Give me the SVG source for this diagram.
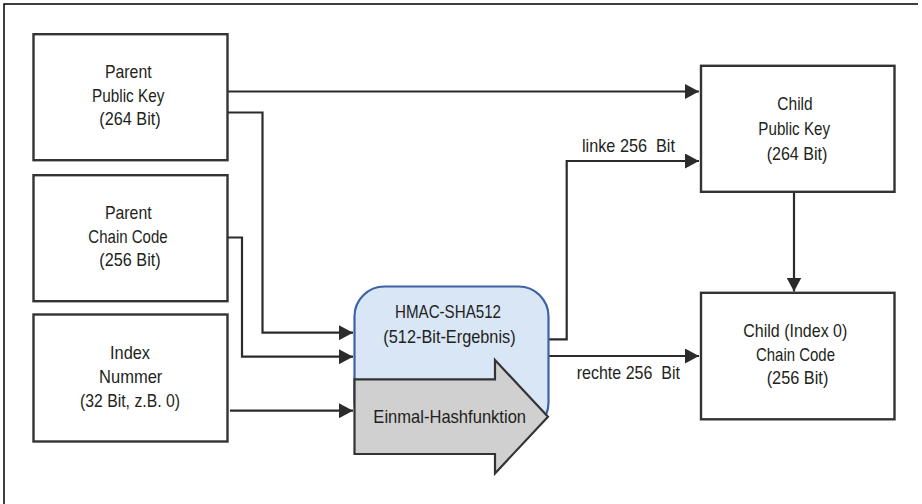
<svg xmlns="http://www.w3.org/2000/svg" width="922" height="504" viewBox="0 0 922 504">
<style>
.box{fill:#fff;stroke:#333;stroke-width:2.4}
.ln{fill:none;stroke:#2b2b2b;stroke-width:2.2}
text{font-family:"Liberation Sans",Arial,sans-serif;font-size:19px;fill:#231f20;text-anchor:middle}
.lbl{text-anchor:start}
</style>
<defs>
<marker id="ah" markerUnits="userSpaceOnUse" markerWidth="14" markerHeight="15" refX="14" refY="7.5" orient="auto" viewBox="0 0 14 15">
<path d="M0,0 L14,7.5 L0,15 z" fill="#2b2b2b"/>
</marker>
</defs>
<rect width="922" height="504" fill="#fff"/>
<path d="M4,504 V4 H918" fill="none" stroke="#000" stroke-width="1.5"/>
<g id="connectors">
<path class="ln" d="M228,91.5 H699" marker-end="url(#ah)"/>
<path class="ln" d="M228,112.5 H262.5 V332.7 H353" marker-end="url(#ah)"/>
<path class="ln" d="M228,237.5 H242 V356.7 H353" marker-end="url(#ah)"/>
<path class="ln" d="M230,410.7 H353" marker-end="url(#ah)"/>
<path class="ln" d="M549,339.3 H566.7 V161 H699" marker-end="url(#ah)"/>
<path class="ln" d="M549,356 H699" marker-end="url(#ah)"/>
<path class="ln" d="M794,191.7 V291.5" marker-end="url(#ah)"/>
<text class="lbl" x="582" y="151.7" xml:space="preserve" textLength="93" lengthAdjust="spacingAndGlyphs">linke 256  Bit</text>
<text class="lbl" x="576.7" y="379" xml:space="preserve" textLength="103.3" lengthAdjust="spacingAndGlyphs">rechte 256  Bit</text>
</g>
<g id="parent-public-key">
<rect class="box" x="33.5" y="34.2" width="194" height="126"/>
<text x="128.3" y="78" textLength="46.7" lengthAdjust="spacingAndGlyphs">Parent</text>
<text x="128.2" y="101.5" textLength="72.3" lengthAdjust="spacingAndGlyphs">Public Key</text>
<text x="130" y="124.5" textLength="61.3" lengthAdjust="spacingAndGlyphs">(264 Bit)</text>
</g>
<g id="parent-chain-code">
<rect class="box" x="33.5" y="175.2" width="194" height="126"/>
<text x="128.3" y="219.3" textLength="46.7" lengthAdjust="spacingAndGlyphs">Parent</text>
<text x="128" y="242.7" textLength="79.3" lengthAdjust="spacingAndGlyphs">Chain Code</text>
<text x="130" y="266" textLength="61.3" lengthAdjust="spacingAndGlyphs">(256 Bit)</text>
</g>
<g id="index-nummer">
<rect class="box" x="33.5" y="314.5" width="194" height="127"/>
<text x="130" y="359.3" textLength="40" lengthAdjust="spacingAndGlyphs">Index</text>
<text x="130.7" y="383.3" textLength="63.3" lengthAdjust="spacingAndGlyphs">Nummer</text>
<text x="130" y="407.3" textLength="100" lengthAdjust="spacingAndGlyphs">(32 Bit, z.B. 0)</text>
</g>
<g id="hmac">
<rect x="354.5" y="286.5" width="194" height="146" rx="30" ry="30" fill="#d9e6f6" stroke="#3d62a6" stroke-width="2.2"/>
<text x="448" y="318.3" textLength="106" lengthAdjust="spacingAndGlyphs">HMAC-SHA512</text>
<text x="449.5" y="343.3" textLength="132.3" lengthAdjust="spacingAndGlyphs">(512-Bit-Ergebnis)</text>
</g>
<g id="einmal-hashfunktion">
<polygon points="354.5,379.3 495,379.3 495,360 548,416.7 495,473.4 495,454 354.5,454" fill="#d0d0d0" stroke="#333" stroke-width="2.2"/>
<text x="449.7" y="423.3" textLength="152.7" lengthAdjust="spacingAndGlyphs">Einmal-Hashfunktion</text>
</g>
<g id="child-public-key">
<rect class="box" x="701" y="65.8" width="193.5" height="126"/>
<text x="795" y="110" textLength="35.3" lengthAdjust="spacingAndGlyphs">Child</text>
<text x="794.2" y="135" textLength="71.7" lengthAdjust="spacingAndGlyphs">Public Key</text>
<text x="797" y="160" textLength="60.7" lengthAdjust="spacingAndGlyphs">(264 Bit)</text>
</g>
<g id="child-chain-code">
<rect class="box" x="701" y="292.8" width="193.5" height="126.5"/>
<text x="795.3" y="337.3" textLength="104" lengthAdjust="spacingAndGlyphs">Child (Index 0)</text>
<text x="795.5" y="360.5" textLength="79" lengthAdjust="spacingAndGlyphs">Chain Code</text>
<text x="797.5" y="383.5" textLength="61.7" lengthAdjust="spacingAndGlyphs">(256 Bit)</text>
</g>
</svg>
